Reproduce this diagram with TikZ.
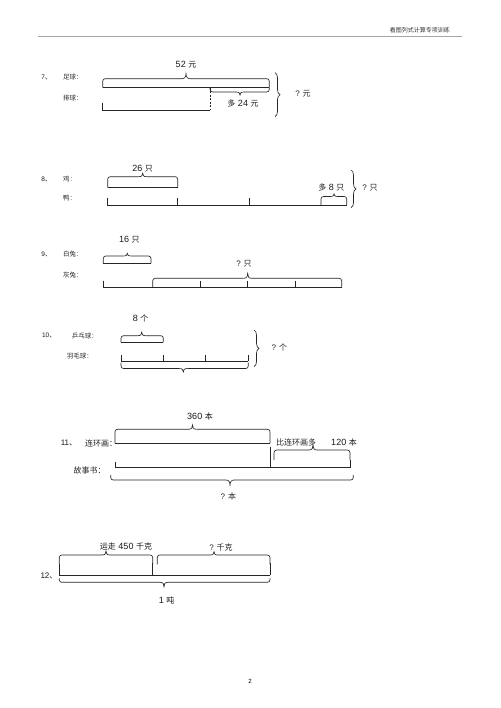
\documentclass[tikz,border=0pt]{standalone}
\usepackage{fontspec}
\setmainfont{Liberation Sans}
\newfontfamily\cjk{Noto Sans CJK SC}
\usetikzlibrary{decorations.pathreplacing}
\newcommand\zh[1]{{\cjk #1}}
% horizontal brace: x1, x2, base y, leg height (signed, + = up), tip (signed), tip x
\newcommand\bbrace[6]{%
  \draw[ln,rounded corners=2.5pt] (#1,#3) -- (#1,{#3-(#4)}) -- ({#6-4},{#3-(#4)});
  \draw[ln,rounded corners=2.5pt] ({#6+4},{#3-(#4)}) -- (#2,{#3-(#4)}) -- (#2,#3);
  \draw[ln] ({#6-4},{#3-(#4)}) .. controls ({#6-0.8},{#3-(#4)}) and (#6,{#3-(#4)-0.4*(#5)}) .. (#6,{#3-(#4)-(#5)})
            .. controls (#6,{#3-(#4)-0.4*(#5)}) and ({#6+0.8},{#3-(#4)}) .. ({#6+4},{#3-(#4)});}
\begin{document}
\begin{tikzpicture}[x=1pt,y=-1pt,
  ln/.style={line width=0.65pt,draw=black!85},
  vbr/.style={ln,decorate,decoration={brace,amplitude=5pt}},
  num/.style={inner sep=0pt,font=\fontsize{9}{10}\selectfont,text=black!90},
  nm/.style={inner sep=0pt,font=\cjk\fontsize{6.5}{7}\selectfont,text=black!85},
  nmb/.style={inner sep=0pt,font=\cjk\fontsize{8}{9}\selectfont,text=black!85},
  qs/.style={inner sep=0pt,font=\fontsize{8}{9}\selectfont,text=black!85}]
\useasboundingbox (0,0) rectangle (500,708);
\fill[white] (0,0) rectangle (500,708);
% header
\node[anchor=east,inner sep=0pt,font=\cjk\fontsize{6}{7}\selectfont,text=black!80] (hdr) at (450,30) {看图列式计算专项训练};
\draw[line width=0.8pt,draw=black!35] (38.3,36.7) -- (461.7,36.7);
% ---------- 7
\node[num,font=\fontsize{6.5}{7}\selectfont] (n7) at (46.5,77) {7\zh{、}};
\node[nm,anchor=west] (a7) at (63,77) {足球：};
\node[nm,anchor=west] (b7) at (63,98.3) {排球：};
\draw[ln] (102.7,87.7) -- (269.3,87.7);
\bbrace{102.7}{269.3}{87.7}{9}{6}{186}
\node[num] (t7) at (186,65) {52 \zh{\fontsize{8}{9}\selectfont 元}};
\draw[ln,dashed,dash pattern=on 2pt off 1.5pt] (210,87.7) -- (210,110);
\draw[ln] (102.7,103) -- (102.7,110) -- (210,110);
\bbrace{210}{269.3}{88}{-4}{-3}{240}
\node[num] (d7) at (243,103.3) {\zh{\fontsize{8}{9}\selectfont 多} 24 \zh{\fontsize{8}{9}\selectfont 元}};
\draw[vbr] (275,72.7) -- (275,116.7);
\node[qs] (q7) at (303,93.5) {? \zh{元}};
% ---------- 8
\node[num,font=\fontsize{6.5}{7}\selectfont] (n8) at (46.5,179) {8\zh{、}};
\node[nm,anchor=west] (a8) at (63,179) {鸡：};
\node[nm,anchor=west] (b8) at (63,198.3) {鸭：};
\draw[ln] (107.7,187.7) -- (177.7,187.7);
\bbrace{107.7}{177.7}{187.7}{11}{3.5}{142.7}
\node[num] (t8) at (142.7,168.3) {26 \zh{\fontsize{8}{9}\selectfont 只}};
\draw[ln] (107.7,197.7) -- (107.7,205) -- (346.7,205);
\draw[ln] (177.7,198.3) -- (177.7,205);
\draw[ln] (249.3,198.3) -- (249.3,205);
\bbrace{321}{346.7}{205}{8.5}{2.5}{334}
\node[num] (d8) at (331.3,187.7) {\zh{\fontsize{8}{9}\selectfont 多} 8 \zh{\fontsize{8}{9}\selectfont 只}};
\draw[vbr] (351,170) -- (351,207.7);
\node[qs] (q8) at (370,188) {? \zh{只}};
% ---------- 9
\node[num,font=\fontsize{6.5}{7}\selectfont] (n9) at (46.5,254) {9\zh{、}};
\node[nm,anchor=west] (a9) at (63,254) {白兔：};
\node[nm,anchor=west] (b9) at (63,275) {灰兔：};
\draw[ln] (103.3,263.3) -- (151,263.3);
\bbrace{103.3}{151}{263.3}{7.3}{2.7}{127.3}
\node[num] (t9) at (129.3,240) {16 \zh{\fontsize{8}{9}\selectfont 只}};
\draw[ln] (103.3,280.7) -- (103.3,287.3) -- (341.7,287.3);
\foreach \x in {200,247.7,295} \draw[ln] (\x,280.7) -- (\x,287.3);
\bbrace{152.7}{341.7}{287.3}{9}{5}{247.7}
\node[qs] (q9) at (244,263.3) {? \zh{只}};
% ---------- 10
\node[num,font=\fontsize{6.5}{7}\selectfont] (n10) at (49,335.7) {10\zh{、}};
\node[nm,anchor=west] (a10) at (71.7,335.7) {乒乓球：};
\node[nm,anchor=west] (b10) at (66.7,355.7) {羽毛球：};
\draw[ln] (121,342.3) -- (163.3,342.3);
\bbrace{121}{163.3}{342.3}{6.6}{3.4}{141.7}
\node[num] (t10) at (140.7,318.3) {8 \zh{\fontsize{8}{9}\selectfont 个}};
\draw[ln] (121,361) -- (248.3,361);
\foreach \x in {121,163.3,205,248.3} \draw[ln] (\x,355) -- (\x,361);
\bbrace{121}{248.3}{362.5}{-6}{-3.5}{183.3}
\draw[vbr] (254,330) -- (254,366.7);
\node[qs] (q10) at (279.3,347.7) {? \zh{个}};
% ---------- 11
\node[num,font=\fontsize{8}{9}\selectfont] (n11) at (69,443.3) {11\zh{、}};
\node[nmb,anchor=west] (a11) at (85,443.3) {连环画：};
\node[nmb,anchor=west] (b11) at (73.3,470) {故事书：};
\draw[ln] (115,443.3) -- (270,443.3);
\bbrace{115}{270}{443.3}{14}{4.3}{192.5}
\node[num] (t11) at (200,416.7) {360 \zh{\fontsize{8}{9}\selectfont 本}};
\draw[ln] (115,462) -- (115,467.5) -- (350,467.5) -- (350,460);
\draw[ln] (270,446.7) -- (270,467.5);
\bbrace{274}{350}{460}{10}{5}{313}
\node[nmb] (c11) at (296,442.7) {比连环画多};
\node[num] (d11) at (344,442.7) {120 \zh{\fontsize{8}{9}\selectfont 本}};
\bbrace{110.7}{353.3}{475}{-5}{-6}{230}
\node[qs] (q11) at (228.3,496.7) {? \zh{本}};
% ---------- 12
\node[num,font=\fontsize{8}{9}\selectfont] (n12) at (49,576) {12\zh{、}};
\draw[ln] (59.3,575) -- (270,575);
\draw[ln] (59.3,564.3) -- (59.3,575);
\draw[ln] (152.7,563.3) -- (152.7,575);
\draw[ln] (270,563.3) -- (270,575);
\bbrace{59.3}{152.7}{564.3}{9.3}{4}{106}
\bbrace{157.3}{270}{564.3}{9.3}{3.3}{214}
\node[num] (t12) at (126,546.7) {\zh{\fontsize{8}{9}\selectfont 运走} 450 \zh{\fontsize{8}{9}\selectfont 千克}};
\node[qs] (q12) at (221,547.7) {? \zh{千克}};
\bbrace{59.3}{270}{578.3}{-4}{-4.4}{164}
\node[num] (b12) at (166.7,600) {1 \zh{\fontsize{8}{9}\selectfont 吨}};
% page number
\node[inner sep=0pt,font=\fontsize{6}{7}\selectfont] (pg) at (250,681.7) {2};
\end{tikzpicture}
\end{document}
